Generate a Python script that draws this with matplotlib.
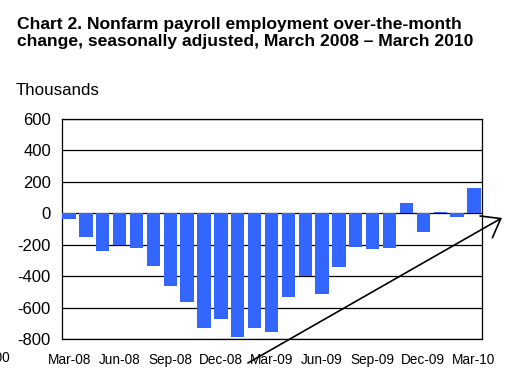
import matplotlib
matplotlib.use("Agg")
import matplotlib.pyplot as plt

plt.rcParams['font.family'] = ['Liberation Sans', 'DejaVu Sans']

# monthly change, thousands
months = ['Mar-08', 'Apr-08', 'May-08', 'Jun-08', 'Jul-08', 'Aug-08', 'Sep-08',
          'Oct-08', 'Nov-08', 'Dec-08', 'Jan-09', 'Feb-09', 'Mar-09', 'Apr-09',
          'May-09', 'Jun-09', 'Jul-09', 'Aug-09', 'Sep-09', 'Oct-09', 'Nov-09',
          'Dec-09', 'Jan-10', 'Feb-10', 'Mar-10']
change = [-38, -153, -238, -204, -219, -338, -461, -563, -728, -673, -786, -728,
          -758, -535, -399, -516, -344, -217, -225, -223, 66, -117, 6, -21, 161]
yticks = [-800, -600, -400, -200, 0, 200, 400, 600]

fig = plt.figure(figsize=(5.07, 3.87), dpi=100)
ax = fig.add_axes([0.1223, 0.124, 0.8284, 0.5685])

x = list(range(len(months)))
ax.bar(x, change, width=0.79, color='#3366FF', zorder=3)

ax.set_ylim(-800, 600)
ax.set_yticks(yticks)
ax.set_yticklabels([str(v) for v in yticks], fontsize=12)
ax.set_xlim(-0.42, 24.48)
ax.set_xticks(x[::3])
ax.set_xticklabels(months[::3], fontsize=9.8)
ax.tick_params(length=0, pad=10)
ax.tick_params(axis='y', pad=8)
ax.grid(axis='y', color='black', linewidth=0.9, zorder=1)
for s in ax.spines.values():
    s.set_linewidth(0.9)

fig.text(0.034, 0.955, 'Chart 2. Nonfarm payroll employment over-the-month\n'
         'change, seasonally adjusted, March 2008 \u2013 March 2010',
         fontsize=12.6, fontweight='bold', va='top', ha='left', linespacing=1.14)
fig.text(0.030, 0.748, 'Thousands', fontsize=12.2, va='bottom', ha='left')

# clipped leftover label at the left edge
fig.text(0.019, 0.075, '-1000', fontsize=9.8, ha='right', va='center')

# hand-drawn arrow
ax.annotate('', xy=(0.990, 0.437), xycoords='figure fraction',
            xytext=(0.489, 0.062), textcoords='figure fraction',
            arrowprops=dict(arrowstyle='->,head_length=0.6,head_width=0.45',
                            mutation_scale=20, color='black', lw=1.2,
                            shrinkA=0, shrinkB=0),
            annotation_clip=False)

fig.savefig('out.png', dpi=100)
